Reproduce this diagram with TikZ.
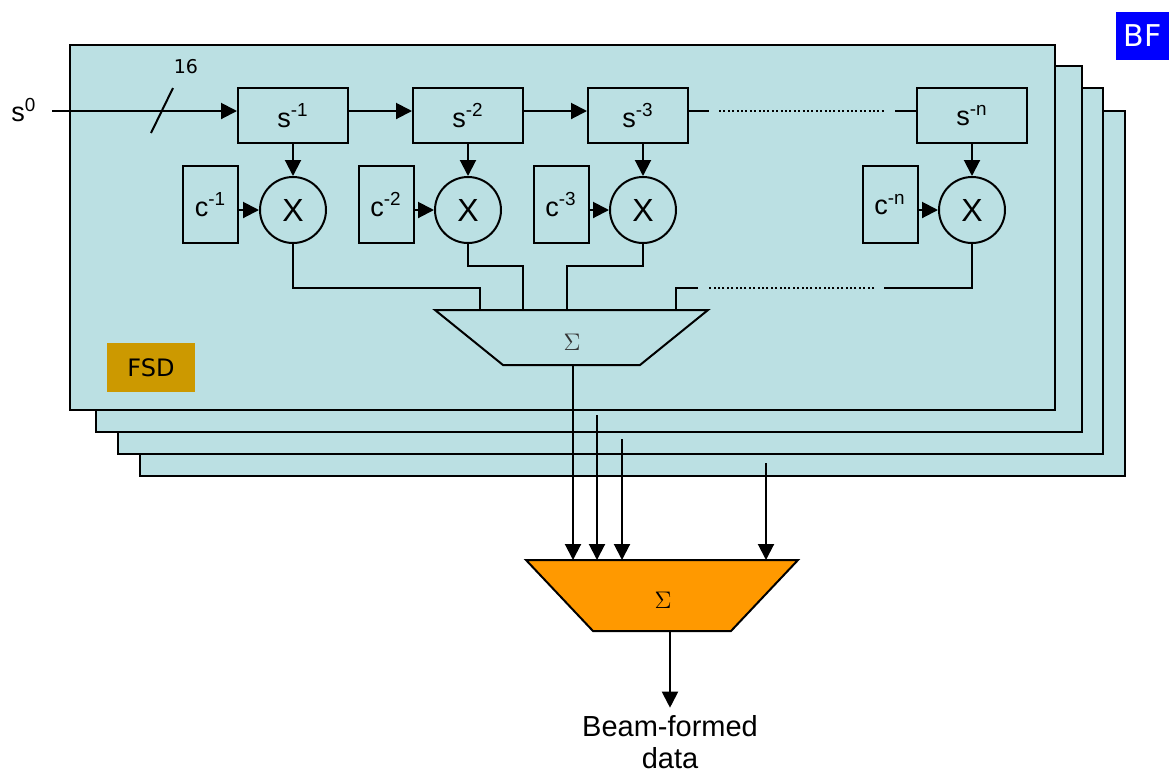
\documentclass[tikz,border=0pt]{standalone}
\usepackage{fontspec}
\setmainfont{Liberation Sans}
\newfontfamily\sigmafont{Liberation Serif}
\newfontfamily\tagfont{DejaVu Sans}
\usetikzlibrary{arrows.meta}
\definecolor{fsdblue}{HTML}{BBE0E3}
\definecolor{fsdgold}{HTML}{CC9900}
\definecolor{sumorange}{HTML}{FF9900}
\definecolor{bfblue}{HTML}{0000FF}
\newcommand\pw[1]{\textsuperscript{#1}}
\begin{document}
\begin{tikzpicture}[x=0.5pt,y=-0.5pt,line width=1pt,
  >={Triangle[length=8pt,width=8pt]},
  panel/.style={draw,fill=fsdblue},
  delay/.style={draw,minimum width=55pt,minimum height=27.5pt,inner sep=0pt,font=\fontsize{13.5}{16}\selectfont},
  coef/.style={draw,minimum width=27.5pt,minimum height=38.5pt,inner sep=0pt,font=\fontsize{13.5}{16}\selectfont},
  mult/.style={draw,circle,minimum size=33pt,inner sep=0pt,font=\fontsize{16}{18}\selectfont}]
\useasboundingbox (0,0) rectangle (1169,773);
% stacked FSD panels
\draw[panel] (140,111) rectangle (1125,476);
\draw[panel] (118,88) rectangle (1103,454);
\draw[panel] (96,66) rectangle (1082,432);
\draw[panel] (70,45) rectangle (1055,410);
\node[fill=fsdgold,minimum width=44pt,minimum height=24.5pt,inner sep=0pt,font=\tagfont\fontsize{12}{14}\selectfont] (fsd) at (151,367.5) {FSD};
\node[fill=bfblue,text=white,minimum width=26.5pt,minimum height=24pt,inner sep=0pt,font=\tagfont\fontsize{15}{17}\selectfont] (bf) at (1142.5,36) {BF};
% delay line
\node[font=\fontsize{13.5}{16}\selectfont] (s0) at (24,110) {s\pw{0}};
\coordinate (in) at (52,111);
\node[delay] (s1) at (293,115.5) {s\pw{-1}};
\node[delay] (s2) at (468,115.5) {s\pw{-2}};
\node[delay,minimum width=50pt] (s3) at (638,115.5) {s\pw{-3}};
\node[delay] (sn) at (972,115.5) {s\pw{-n}};
\draw[->] (in) -- (in -| s1.west);
\draw (151,133) -- (173,88);
\node[font=\tagfont\fontsize{9.5}{11}\selectfont] (bits) at (186,67) {16};
\draw[->] (in -| s1.east) -- (in -| s2.west);
\draw[->] (in -| s2.east) -- (in -| s3.west);
\draw (in -| s3.east) -- (709,111);
\draw[line width=0.6pt,dash pattern=on 1pt off 1.2pt] (719,111) -- (885,111);
\draw (895,111) -- (in -| sn.west);
% coefficients and multipliers
\node[mult] (m1) at (293,210) {X};
\node[mult] (m2) at (468,210) {X};
\node[mult] (m3) at (643,210) {X};
\node[mult] (mn) at (972,210) {X};
\node[coef] (c1) at (210.5,204.5) {c\pw{-1}};
\node[coef] (c2) at (386,204.5) {c\pw{-2}};
\node[coef] (c3) at (561,204.5) {c\pw{-3}};
\node[coef] (cn) at (890,204.5) {c\pw{-n}};
\foreach \k in {1,2,3,n} {
  \draw[->] (m\k |- s\k.south) -- (m\k.north);
  \draw[->] (c\k.east |- m\k) -- (m\k.west);
}
% first adder
\draw[fill=fsdblue] (435,310) -- (708,310) -- (640,365) -- (503,365) -- cycle;
\node[font=\sigmafont\fontsize{12}{14}\selectfont,text=black!80] (sum) at (572,342) {$\Sigma$};
\coordinate (a1) at (480,310);
\coordinate (a2) at (523,310);
\coordinate (a3) at (567,310);
\coordinate (a4) at (676,310);
\coordinate (sumout) at (573,365);
\draw (m1.south) |- (480,288) -- (a1);
\draw (m2.south) |- (523,266) -- (a2);
\draw (m3.south) |- (567,266) -- (a3);
\draw (mn.south) |- (884,288);
\draw[line width=0.6pt,dash pattern=on 1pt off 1.2pt] (874,288) -- (708,288);
\draw (698,288) -| (a4);
% final adder
\draw[fill=sumorange] (526,560) -- (798,560) -- (731,631) -- (593,631) -- cycle;
\node[font=\sigmafont\fontsize{13}{15}\selectfont] (total) at (663,600) {$\Sigma$};
\coordinate (b1) at (573,560);
\coordinate (b2) at (597,560);
\coordinate (b3) at (622,560);
\coordinate (b4) at (766,560);
\coordinate (out) at (670,631);
\draw[->] (sumout) -- (b1);
\draw[->] (597,415) -- (b2);
\draw[->] (622,439) -- (b3);
\draw[->] (766,463) -- (b4);
\node[align=center,font=\fontsize{14.5}{16}\selectfont] (beam) at (670,742) {Beam-formed\\data};
\draw[->] (out) -- (beam.north);
\end{tikzpicture}
\end{document}
